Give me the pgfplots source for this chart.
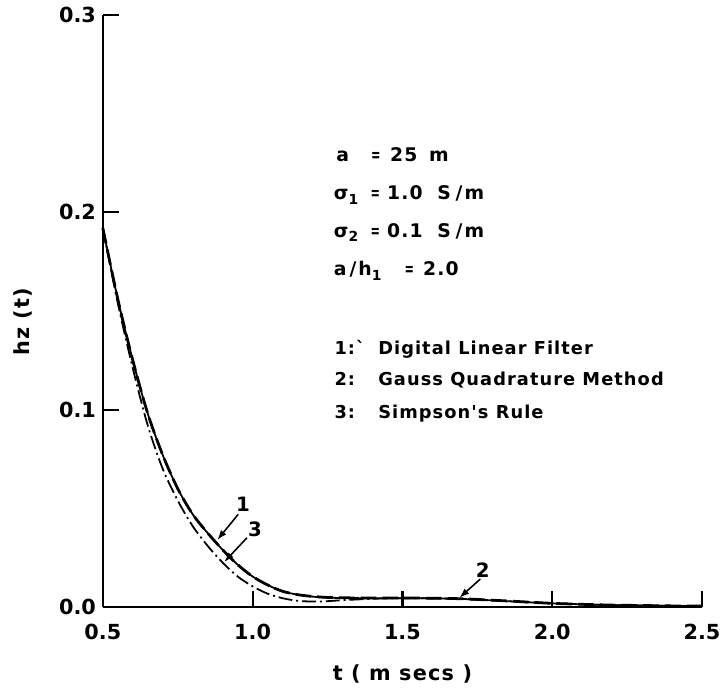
\documentclass[border=0pt]{standalone}
\usepackage{fontspec}
\setmainfont{DejaVu Sans}
\newfontfamily\spaced{DejaVu Sans Bold}[LetterSpace=6]
\newfontfamily\tickfont{DejaVu Sans Bold}
\usepackage{graphicx}
\usepackage{pgfplots}
\usepackage{pgfplotstable}
\pgfplotsset{compat=1.18}
\usetikzlibrary{arrows.meta}

% 1: Digital Linear Filter
\pgfplotstableread{
t hz
0.50 0.192
0.55 0.156
0.60 0.125
0.65 0.098
0.70 0.077
0.75 0.060
0.80 0.047
0.85 0.0375
0.90 0.0290
0.95 0.0215
1.00 0.0155
1.05 0.0112
1.10 0.0080
1.15 0.0063
1.20 0.0053
1.25 0.0048
1.30 0.0046
1.40 0.0045
1.50 0.0045
1.60 0.0044
1.70 0.0041
1.80 0.0034
1.90 0.0026
2.00 0.0019
2.10 0.0014
2.20 0.0010
2.30 0.0008
2.40 0.0006
2.50 0.0005
}\dlf

% 2: Gauss Quadrature Method
\pgfplotstableread{
t hz
0.50 0.192
0.55 0.156
0.60 0.125
0.65 0.098
0.70 0.077
0.75 0.060
0.80 0.047
0.85 0.0375
0.90 0.0290
0.95 0.0215
1.00 0.0155
1.05 0.0112
1.10 0.0080
1.15 0.0063
1.20 0.0054
1.25 0.0049
1.30 0.0047
1.40 0.0046
1.50 0.0046
1.60 0.0045
1.70 0.0042
1.80 0.0035
1.90 0.0027
2.00 0.0019
2.10 0.0014
2.20 0.0010
2.30 0.0008
2.40 0.0006
2.50 0.0005
}\gqm

% 3: Simpson's Rule
\pgfplotstableread{
t hz
0.50 0.192
0.55 0.154
0.60 0.121
0.65 0.092
0.70 0.070
0.75 0.054
0.80 0.041
0.85 0.031
0.90 0.0225
0.95 0.0155
1.00 0.0105
1.05 0.0068
1.10 0.0045
1.15 0.0032
1.20 0.0028
1.25 0.0030
1.30 0.0035
1.40 0.0042
1.50 0.0045
1.60 0.0044
1.70 0.0041
1.80 0.0034
1.90 0.0026
2.00 0.0019
2.10 0.0014
2.20 0.0010
2.30 0.0008
2.40 0.0006
2.50 0.0005
}\simp

\newcommand{\sub}[1]{\raisebox{-0.45ex}{\fontsize{7}{8}\selectfont #1}}
\newcommand{\eq}{\scalebox{0.6}[1]{=}}

\begin{document}
\begin{tikzpicture}
\begin{axis}[
  scale only axis, width=303pt, height=299.5pt,
  xmin=0.5, xmax=2.5, ymin=0, ymax=0.3,
  clip=false,
  axis x line=bottom, axis y line=left,
  axis line style={-, line width=1.1pt},
  xtick={0.5,1.0,1.5,2.0,2.5}, ytick={0,0.1,0.2,0.3},
  xticklabels={0.5,1.0,1.5,2.0,2.5}, yticklabels={0.0,0.1,0.2,0.3},
  tick align=inside, major tick length=8pt,
  tick style={line width=1.1pt, black},
  /pgf/number format/assume math mode=true,
  ticklabel style={font=\tickfont\fontsize{10.5}{12}\selectfont},
  xticklabel style={yshift=-5pt},
  xlabel={t ( m secs )}, ylabel={hz (t)},
  label style={font=\spaced\fontsize{10.5}{12}\selectfont},
  xlabel style={at={(axis description cs:0.5,0)}, anchor=center, yshift=-34pt},
  ylabel style={at={(axis description cs:0,0.482)}, anchor=center, yshift=40.5pt},
]
\addplot[black, line width=0.9pt, smooth] table[x=t, y=hz] {\dlf};
\addplot[black, line width=1.4pt, smooth, dash pattern=on 8pt off 3pt] table[x=t, y=hz] {\gqm};
\addplot[black, line width=0.9pt, smooth, dash pattern=on 7pt off 2pt on 1pt off 2pt] table[x=t, y=hz] {\simp};

% curve labels with pointers
\begin{scope}[every node/.style={font=\tickfont\fontsize{10}{11}\selectfont}]
\draw[line width=0.8pt, -{Latex[length=5pt,width=3.5pt]}] (axis cs:0.952,0.0470) -- (axis cs:0.882,0.0340);
\node at (axis cs:0.968,0.0520) {1};
\draw[line width=0.8pt, -{Latex[length=5pt,width=3.5pt]}] (axis cs:0.981,0.0351) -- (axis cs:0.905,0.0228);
\node at (axis cs:1.008,0.0395) {3};
\draw[line width=0.8pt, -{Latex[length=5pt,width=3.5pt]}] (axis cs:1.760,0.0142) -- (axis cs:1.690,0.0047);
\node at (axis cs:1.768,0.0185) {2};
\end{scope}

% model parameters
\begin{scope}[every node/.style={anchor=base west, inner sep=0pt, font=\spaced\fontsize{9.5}{11}\selectfont}]
\node at (axis cs:1.278,0.2258) {a};
\node[anchor=base] at (axis cs:1.411,0.2258) {\eq};
\node at (axis cs:1.458,0.2258) {25\hspace{2pt} m};
\node at (axis cs:1.270,0.2065) {σ\sub{1}};
\node[anchor=base] at (axis cs:1.410,0.2065) {\eq};
\node at (axis cs:1.448,0.2065) {1.0};
\node at (axis cs:1.615,0.2065) {S\hspace{2.5pt}/\hspace{1pt}m};
\node at (axis cs:1.270,0.1873) {σ\sub{2}};
\node[anchor=base] at (axis cs:1.410,0.1873) {\eq};
\node at (axis cs:1.448,0.1873) {0.1};
\node at (axis cs:1.615,0.1873) {S\hspace{2.5pt}/\hspace{1pt}m};
\node at (axis cs:1.270,0.1680) {a\hspace{1.5pt}/\hspace{1pt}h\sub{1}};
\node[anchor=base] at (axis cs:1.523,0.1680) {\eq};
\node at (axis cs:1.568,0.1680) {2.0};
\end{scope}

% method key
\begin{scope}[every node/.style={anchor=base west, inner sep=0pt, font=\spaced\fontsize{9}{11}\selectfont}]
\node at (axis cs:1.272,0.1280) {1:`};
\node at (axis cs:1.418,0.1280) {Digital Linear Filter};
\node at (axis cs:1.272,0.1120) {2:};
\node at (axis cs:1.418,0.1120) {Gauss Quadrature Method};
\node at (axis cs:1.272,0.0957) {3:};
\node at (axis cs:1.418,0.0957) {Simpson's Rule};
\end{scope}

\coordinate (sw) at (rel axis cs:0,0);
\coordinate (ne) at (rel axis cs:1,1);
\end{axis}
\path ([shift={(-52pt,-37.5pt)}]sw) rectangle ([shift={(8.5pt,7.5pt)}]ne);
\end{tikzpicture}
\end{document}
